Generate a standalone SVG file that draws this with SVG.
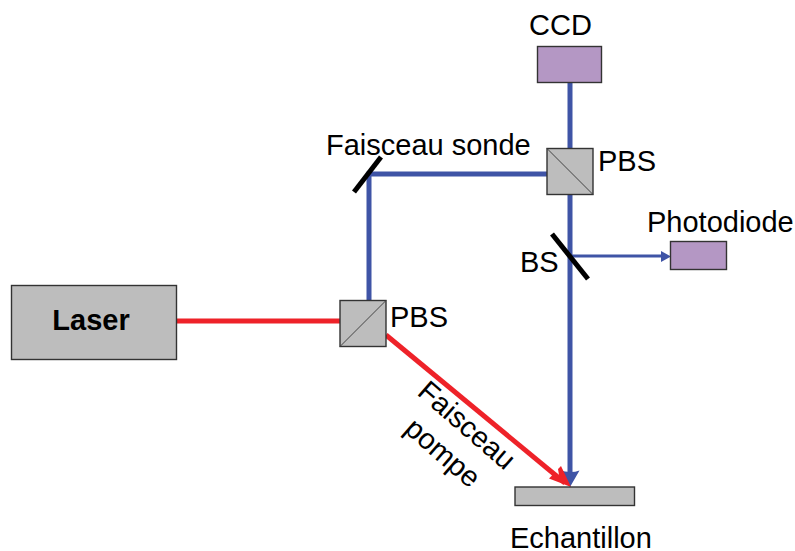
<svg xmlns="http://www.w3.org/2000/svg" width="795" height="551" viewBox="0 0 795 551">
<style>
text{font-family:"Liberation Sans",Arial,sans-serif;font-size:29px;fill:#000}
.box{fill:#bdbdbd;stroke:#333;stroke-width:1.4}
.pur{fill:#b497c4;stroke:#333;stroke-width:1.4}
.diag{stroke:#444;stroke-width:1;fill:none}
.blue{stroke:#3f54a6;stroke-width:5;fill:none}
.red{stroke:#ee2229;stroke-width:5;fill:none}
.mir{stroke:#000;stroke-width:5;fill:none}
</style>
<rect width="795" height="551" fill="#fff"/>
<g id="connectors">
<path class="blue" d="M570 83V148M570 194V478"/>
<path class="blue" d="M369 300V174H547"/>
<path stroke="#3f54a6" stroke-width="3" fill="none" d="M570 256H664"/>
<path fill="#3f54a6" d="M671 256.500L661 251V262Z"/>
<path fill="#3f54a6" d="M570 487L558.500 469.500Q570 474 579.500 470.500Z"/>
<path class="red" d="M177 321H340"/>
<path class="red" d="M386 335L565 483"/>
<path fill="#ee2229" d="M571 487L549 478.500L553 474.500L559.500 478L558 469L561 466Z"/>
</g>
<g id="ccd"><rect class="pur" x="537.500" y="46.500" width="64" height="36"/><text x="529" y="35">CCD</text></g>
<g id="pbs-top"><rect class="box" x="547" y="148.500" width="46" height="46"/><path class="diag" d="M547 148.500L593 194.500"/><text x="598" y="171">PBS</text></g>
<g id="mirror-probe"><path class="mir" d="M381 157L354 192"/><text x="326" y="155">Faisceau sonde</text></g>
<g id="bs"><path class="mir" d="M552 234L588 279"/><text x="520" y="272">BS</text></g>
<g id="photodiode"><rect class="pur" x="670.500" y="241.500" width="56" height="28"/><text x="647" y="232">Photodiode</text></g>
<g id="laser"><rect class="box" x="11.500" y="285.500" width="165" height="74"/><text x="91" y="330" text-anchor="middle" style="font-weight:bold">Laser</text></g>
<g id="pbs-bottom"><rect class="box" x="340" y="300.500" width="46" height="46"/><path class="diag" d="M340 346.500L386 300.500"/><text x="390" y="327">PBS</text></g>
<g id="sample"><rect class="box" x="515" y="487" width="119.500" height="18.500"/><text x="510" y="548">Echantillon</text></g>
<g id="pump-label"><text transform="translate(416 394) rotate(41)">Faisceau</text><text transform="translate(403 431) rotate(41)">pompe</text></g>
</svg>
